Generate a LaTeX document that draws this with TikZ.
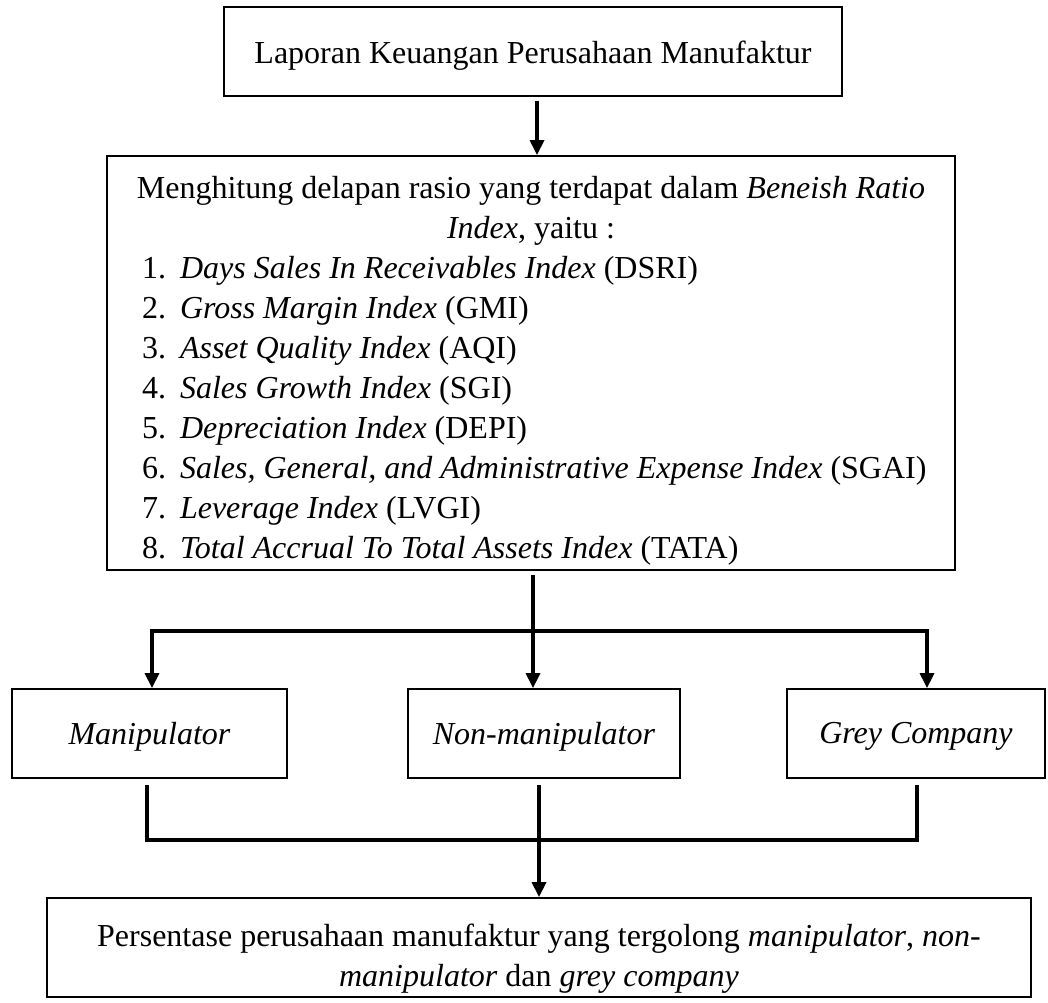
\documentclass[tikz,border=0pt]{standalone}
\usepackage{fontspec}
\setmainfont{Liberation Serif}
\usetikzlibrary{arrows.meta,calc}
\begin{document}
\begin{tikzpicture}[x=1pt,y=-1pt,
  box/.style={draw, line width=1.8pt, rectangle, inner sep=0pt, font=\fontsize{32}{40}\selectfont, align=center},
  bigbox/.style={draw, line width=1.8pt, rectangle, inner sep=0pt, font=\fontsize{32}{40}\selectfont},
  conn/.style={line width=3.3pt},
  arr/.style={line width=3.3pt, -{Triangle[length=15pt,width=14pt]}},
  busbar/.style={line width=4.8pt, line cap=rect}]
\useasboundingbox (0,0) rectangle (1048,1002);

\node[box, minimum width=618pt, minimum height=89pt] (top) at (533,51.5)
  {\raisebox{-4pt}[\height][\depth]{Laporan Keuangan Perusahaan Manufaktur}};

\node[bigbox, minimum width=848pt, minimum height=414pt] (big) at (531,363)
  {\raisebox{-8pt}[\height][\depth]{\begin{minipage}{810pt}
  \centering Menghitung delapan rasio yang terdapat dalam \textit{Beneish Ratio}\\
  \textit{Index}, yaitu :\par
  \raggedright
  \hspace*{16pt}\makebox[38pt][l]{1.}\textit{Days Sales In Receivables Index} (DSRI)\\
  \hspace*{16pt}\makebox[38pt][l]{2.}\textit{Gross Margin Index} (GMI)\\
  \hspace*{16pt}\makebox[38pt][l]{3.}\textit{Asset Quality Index} (AQI)\\
  \hspace*{16pt}\makebox[38pt][l]{4.}\textit{Sales Growth Index} (SGI)\\
  \hspace*{16pt}\makebox[38pt][l]{5.}\textit{Depreciation Index} (DEPI)\\
  \hspace*{16pt}\makebox[38pt][l]{6.}\textit{Sales, General, and Administrative Expense Index} (SGAI)\\
  \hspace*{16pt}\makebox[38pt][l]{7.}\textit{Leverage Index} (LVGI)\\
  \hspace*{16pt}\makebox[38pt][l]{8.}\textit{Total Accrual To Total Assets Index} (TATA)\par
  \end{minipage}}};

\node[box, minimum width=275pt, minimum height=89pt] (manip) at (149.5,733.5) {\raisebox{-3pt}[\height][\depth]{\textit{Manipulator}}};
\node[box, minimum width=272pt, minimum height=89pt] (nonmanip) at (544,733.5) {\raisebox{-3pt}[\height][\depth]{\textit{Non-manipulator}}};
\node[box, minimum width=258pt, minimum height=89pt] (grey) at (916,733.5) {\raisebox{-3pt}[\height][\depth]{\textit{Grey Company}}};

\node[box, minimum width=984pt, minimum height=99pt] (bottom) at (539,947.5)
  {\raisebox{-11pt}[\height][\depth]{\begin{tabular}{@{}c@{}}Persentase perusahaan manufaktur yang tergolong \textit{manipulator}, \textit{non-}\\
  \textit{manipulator} dan \textit{grey company}\end{tabular}}};

% top -> big
\draw[arr] ([xshift=4pt,yshift=-4pt]top.south) -- ([xshift=6pt]big.north);

% big -> three boxes
\coordinate (cL) at (152,631);
\coordinate (cM) at (533,631);
\coordinate (cR) at (927,631);
\draw[conn] (big.south -| cM) ++(0,4) -- (cM);
\draw[busbar] (cL) -- (cR);
\draw[arr] (cL) -- (cL |- manip.north);
\draw[arr] (cM) -- (cM |- nonmanip.north);
\draw[arr] (cR) -- (cR |- grey.north);

% three boxes -> bottom
\coordinate (dL) at (147,840);
\coordinate (dM) at (539,840);
\coordinate (dR) at (917,840);
\draw[conn] (dL |- manip.south) ++(0,6) -- (dL);
\draw[conn] (dR |- grey.south) ++(0,6) -- (dR);
\draw[busbar] (dL) -- (dR);
\draw[arr] (dM |- nonmanip.south) ++(0,6) -- (dM |- bottom.north);
\end{tikzpicture}
\end{document}
